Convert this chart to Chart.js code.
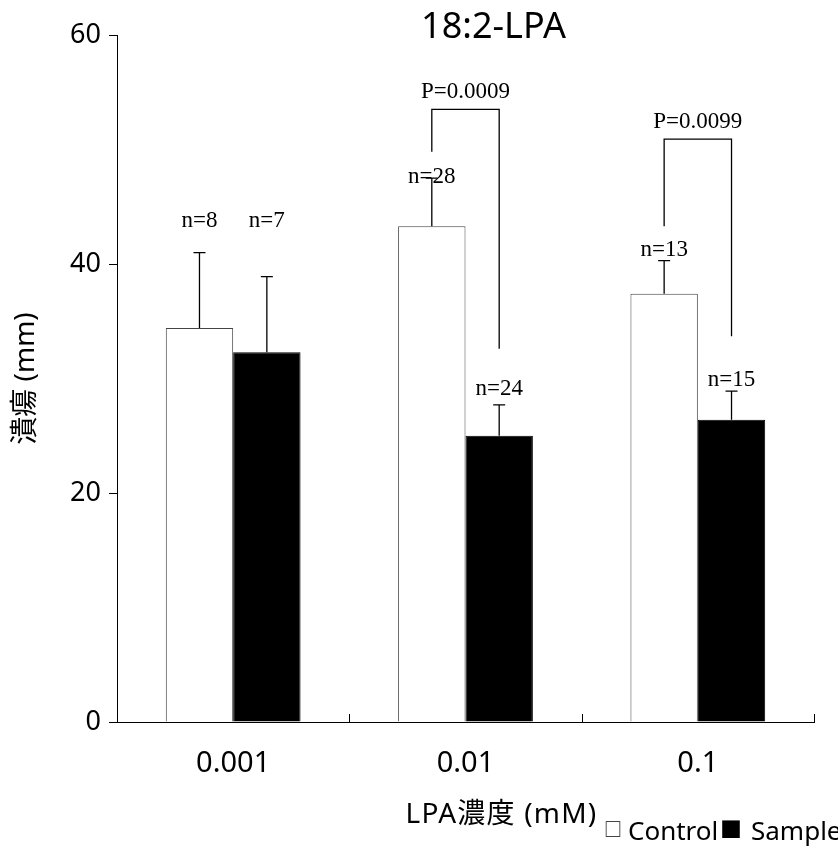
<!DOCTYPE html>
<html>
<head>
<meta charset="utf-8">
<script src="https://cdn.jsdelivr.net/npm/chart.js@4/dist/chart.umd.min.js"></script>
<style>
  html, body { margin: 0; padding: 0; background: #fff; }
  #wrap { width: 838px; height: 848px; }
</style>
</head>
<body>
<div id="wrap"><canvas id="chart"></canvas></div>
<script>
// values
const categories = ['0.001', '0.01', '0.1'];
const controlMean = [34.4, 43.3, 37.4];
const sampleMean = [32.3, 25.0, 26.4];
const controlErr = [6.6, 4.2, 2.9];
const sampleErr = [6.6, 2.7, 2.5];
const controlN = ['n=8', 'n=28', 'n=13'];
const sampleN = ['n=7', 'n=24', 'n=15'];
const controlNAt = [43.8, 47.6, 41.2];
const sampleNAt = [43.8, 29.1, 29.9];
const yTicks = [0, 20, 40, 60];

// significance brackets: category index, label, bracket top, left / right leg ends
const pCategory = [1, 2];
const pText = ['P=0.0009', 'P=0.0099'];
const pTop = [53.5, 50.9];
const pLeftEnd = [49.8, 43.3];
const pRightEnd = [32.6, 33.7];

const SANS = '"Noto Sans", "Noto Sans CJK JP", sans-serif';
const CJK = '"Noto Sans CJK JP", sans-serif';
const SERIF = '"Liberation Serif", serif';

const annotate = {
  id: 'annotate',
  afterDatasetsDraw(chart) {
    const { ctx, chartArea, scales: { x, y } } = chart;
    ctx.save();
    ctx.strokeStyle = '#000';
    ctx.fillStyle = '#000';
    ctx.lineWidth = 1.3;

    // error bars + n labels
    const series = [
      [controlMean, controlErr, controlN, controlNAt],
      [sampleMean, sampleErr, sampleN, sampleNAt]
    ];
    ctx.font = '23px ' + SERIF;
    ctx.textAlign = 'center';
    ctx.textBaseline = 'middle';
    series.forEach((s, di) => {
      chart.getDatasetMeta(di).data.forEach((bar, i) => {
        const top = y.getPixelForValue(s[0][i] + s[1][i]);
        ctx.beginPath();
        ctx.moveTo(bar.x, bar.y);
        ctx.lineTo(bar.x, top);
        ctx.moveTo(bar.x - 6, top);
        ctx.lineTo(bar.x + 6, top);
        ctx.stroke();
        ctx.fillText(s[2][i], bar.x, y.getPixelForValue(s[3][i]));
      });
    });

    // P value brackets
    const ctrlBars = chart.getDatasetMeta(0).data;
    const smplBars = chart.getDatasetMeta(1).data;
    pCategory.forEach((ci, k) => {
      const xl = ctrlBars[ci].x, xr = smplBars[ci].x;
      const yt = y.getPixelForValue(pTop[k]);
      ctx.beginPath();
      ctx.moveTo(xl, y.getPixelForValue(pLeftEnd[k]));
      ctx.lineTo(xl, yt);
      ctx.lineTo(xr, yt);
      ctx.lineTo(xr, y.getPixelForValue(pRightEnd[k]));
      ctx.stroke();
      ctx.fillText(pText[k], (xl + xr) / 2, yt - 17);
    });

    // small inward ticks on the x axis at category boundaries
    ctx.lineWidth = 1;
    const step = (chartArea.right - chartArea.left) / categories.length;
    ctx.beginPath();
    for (let i = 1; i <= categories.length; i++) {
      const px = Math.round(chartArea.left + i * step) + 0.5;
      ctx.moveTo(px, chartArea.bottom);
      ctx.lineTo(px, chartArea.bottom - 8);
    }
    ctx.stroke();

    // title and x axis title
    const cx = (chartArea.left + chartArea.right) / 2 + 28;
    ctx.font = '36px ' + SANS;
    ctx.fillText('18:2-LPA', cx, 28);
    ctx.font = '28px ' + SANS;
    ctx.letterSpacing = '1.2px';
    ctx.fillText('LPA濃度 (mM)', cx + 8, 815);
    ctx.letterSpacing = '0px';

    // legend: □ Control■ Sample
    ctx.font = '18px ' + CJK;
    ctx.fillText('□', 613, 829);
    ctx.font = '22px ' + CJK;
    ctx.fillText('■', 731, 829);
    ctx.textAlign = 'left';
    ctx.font = '26px ' + SANS;
    ctx.fillText('Control', 628, 833);
    ctx.fillText('Sample', 751, 833);
    ctx.restore();
  }
};

new Chart(document.getElementById('chart'), {
  type: 'bar',
  data: {
    labels: categories,
    datasets: [
      {
        label: 'Control',
        data: controlMean,
        backgroundColor: '#fff',
        borderColor: '#444',
        borderWidth: 1
      },
      {
        label: 'Sample',
        data: sampleMean,
        backgroundColor: '#000',
        borderColor: '#000',
        borderWidth: 1
      }
    ]
  },
  options: {
    responsive: true,
    maintainAspectRatio: false,
    animation: false,
    layout: { padding: { top: 35, right: 24, left: 0, bottom: 0 } },
    datasets: { bar: { categoryPercentage: 0.58, barPercentage: 1.0 } },
    plugins: {
      legend: { display: false },
      title: { display: false },
      tooltip: { enabled: false }
    },
    scales: {
      x: {
        grid: { display: false, drawTicks: false },
        border: { display: true, color: '#000', width: 1 },
        ticks: { color: '#000', font: { family: SANS, size: 29 }, padding: 24 },
        afterFit: (s) => { s.height = 126; }
      },
      y: {
        min: 0,
        max: 60,
        afterBuildTicks: (s) => { s.ticks = yTicks.map(v => ({ value: v })); },
        grid: { drawOnChartArea: false, drawTicks: true, tickLength: 8, color: '#000' },
        border: { display: true, color: '#000', width: 1 },
        ticks: { color: '#000', font: { family: SANS, size: 27 }, padding: 8 },
        title: {
          display: true,
          text: '潰瘍 (mm)',
          color: '#000',
          font: { family: SANS, size: 28 },
          padding: { top: 9, bottom: 0 }
        },
        afterFit: (s) => { s.width = 117; }
      }
    }
  },
  plugins: [annotate]
});
</script>
</body>
</html>
